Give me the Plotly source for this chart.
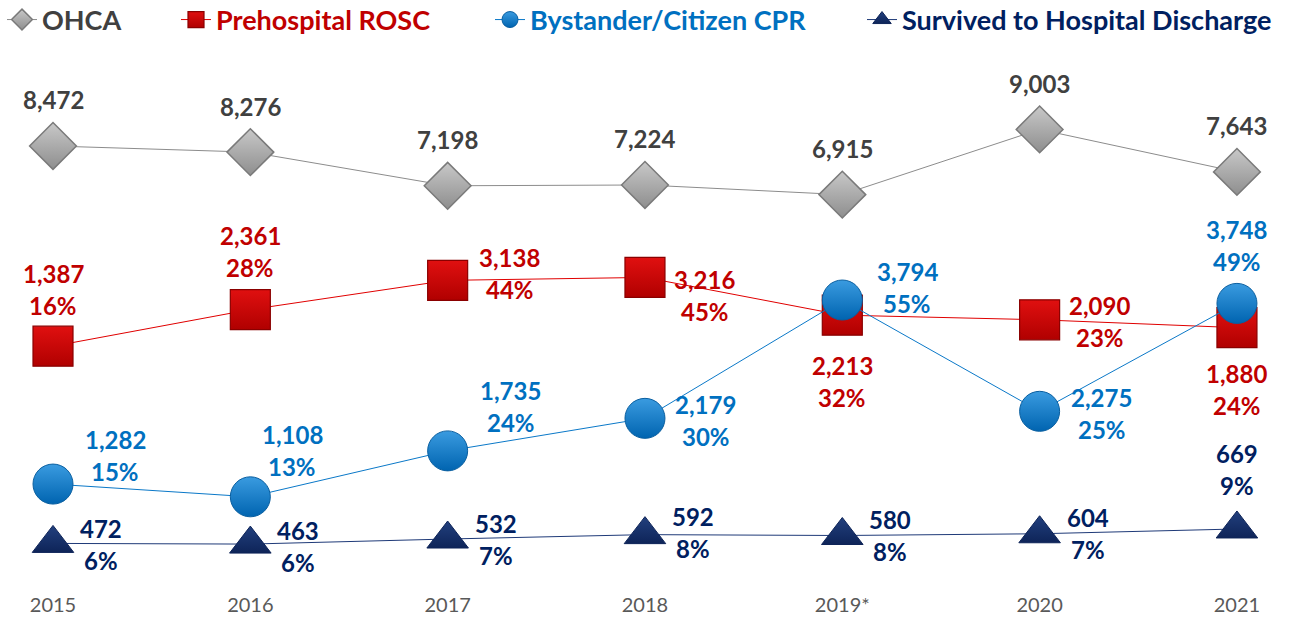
import plotly.graph_objects as go

years = ["2015", "2016", "2017", "2018", "2019*", "2020", "2021"]
ohca = [8472, 8276, 7198, 7224, 6915, 9003, 7643]
rosc = [1387, 2361, 3138, 3216, 2213, 2090, 1880]
rosc_pct = [16, 28, 44, 45, 32, 23, 24]
cpr = [1282, 1108, 1735, 2179, 3794, 2275, 3748]
cpr_pct = [15, 13, 24, 30, 55, 25, 49]
surv = [472, 463, 532, 592, 580, 604, 669]
surv_pct = [6, 6, 7, 8, 8, 7, 9]

FONT = "Lato"
C_OHCA, C_ROSC, C_CPR, C_SURV = "#404040", "#C00000", "#0070C0", "#002060"

fig = go.Figure()
fig.add_trace(go.Scatter(
    x=years, y=ohca, name="OHCA", mode="lines+markers", yaxis="y",
    line=dict(color="#8C8C8C", width=1),
    marker=dict(symbol="diamond", size=36, color="#C8C8C8",
                gradient=dict(type="vertical", color="#8E8E8E"),
                line=dict(color="#7A7A7A", width=1.5)),
    legend="legend"))
fig.add_trace(go.Scatter(
    x=years, y=rosc, name="Prehospital ROSC", mode="lines+markers", yaxis="y2",
    line=dict(color="#E00000", width=1),
    marker=dict(symbol="square", size=40, color="#E01010",
                gradient=dict(type="vertical", color="#B00000"),
                line=dict(color="#8A0000", width=1.2)),
    legend="legend2"))
fig.add_trace(go.Scatter(
    x=years, y=cpr, name="Bystander/Citizen CPR", mode="lines+markers", yaxis="y3",
    line=dict(color="#0A78C8", width=1),
    marker=dict(symbol="circle", size=40, color="#3A9BE0",
                gradient=dict(type="vertical", color="#0064B0"),
                line=dict(color="#0A5FA0", width=1)),
    legend="legend3"))
fig.add_trace(go.Scatter(
    x=years, y=surv, name="Survived to Hospital Discharge", mode="lines+markers", yaxis="y3",
    line=dict(color="#1F3A78", width=1),
    marker=dict(symbol="triangle-up", size=36, color="#22407E",
                gradient=dict(type="vertical", color="#0E2458"),
                line=dict(color="#0E2458", width=1)),
    legend="legend4"))

# label offsets (pixels, right / down) relative to marker centre
off_ohca = [(0, -46)] * 7
off_rosc = [(0, -73), (0, -74), (62, -23), (60, 2), (0, 50), (60, -14), (0, 46)]
off_cpr = [(62, -45), (42, -62), (63, -60), (61, -14), (65, -29), (62, -14), (0, -74)]
off_surv = [(48, -15), (48, -14), (48, -16), (48, -18), (48, -16), (48, -16), (0, -75)]

ann = []
def lab(i, y, yref, text, dx, dy, color):
    ann.append(dict(x=i, y=y, xref="x", yref=yref, text=text, showarrow=False,
                    xshift=dx, yshift=-dy, xanchor="center", yanchor="middle",
                    font=dict(family=FONT, size=24, color=color, weight="bold")))

for i, yr in enumerate(years):
    lab(i, ohca[i], "y", f"{ohca[i]:,}", *off_ohca[i], C_OHCA)
    dx, dy = off_rosc[i]
    lab(i, rosc[i], "y2", f"{rosc[i]:,}", dx, dy, C_ROSC)
    lab(i, rosc[i], "y2", f"{rosc_pct[i]}%", dx, dy + 32, C_ROSC)
    dx, dy = off_cpr[i]
    lab(i, cpr[i], "y3", f"{cpr[i]:,}", dx, dy, C_CPR)
    lab(i, cpr[i], "y3", f"{cpr_pct[i]}%", dx, dy + 32, C_CPR)
    dx, dy = off_surv[i]
    lab(i, surv[i], "y3", f"{surv[i]:,}", dx, dy, C_SURV)
    lab(i, surv[i], "y3", f"{surv_pct[i]}%", dx, dy + 32, C_SURV)

W, H, T, B = 1292, 618, 40, 40
ph = H - T - B
def py(p):
    return (H - B - p) / ph

def leg(xpix, color):
    return dict(x=xpix / W, y=py(20), xanchor="left", yanchor="middle",
                orientation="h", bgcolor="rgba(0,0,0,0)",
                font=dict(family=FONT, size=27, color=color, weight="bold"),
                itemsizing="trace")

noax = dict(visible=False, showgrid=False, zeroline=False, fixedrange=True)
fig.update_layout(
    width=W, height=H, margin=dict(l=0, r=0, t=T, b=B, autoexpand=False),
    plot_bgcolor="white", paper_bgcolor="white", showlegend=True,
    xaxis=dict(type="category", categoryorder="array", categoryarray=years,
               range=[-0.2686, 6.279], showgrid=False, zeroline=False, showline=False,
               ticks="", ticklabelstandoff=13,
               tickfont=dict(family=FONT, size=20, color="#595959")),
    yaxis=dict(range=[-5361, 11866], **noax),
    yaxis2=dict(range=[-4776, 9529], overlaying="y", **noax),
    yaxis3=dict(range=[0, 7343], overlaying="y", **noax),
    legend=leg(2, C_OHCA), legend2=leg(176, C_ROSC),
    legend3=leg(490, C_CPR), legend4=leg(862, C_SURV),
    annotations=ann,
)
fig.write_html("out.html", config={"displayModeBar": False},
               post_script="document.body.style.margin='0';document.body.style.overflow='hidden';")
